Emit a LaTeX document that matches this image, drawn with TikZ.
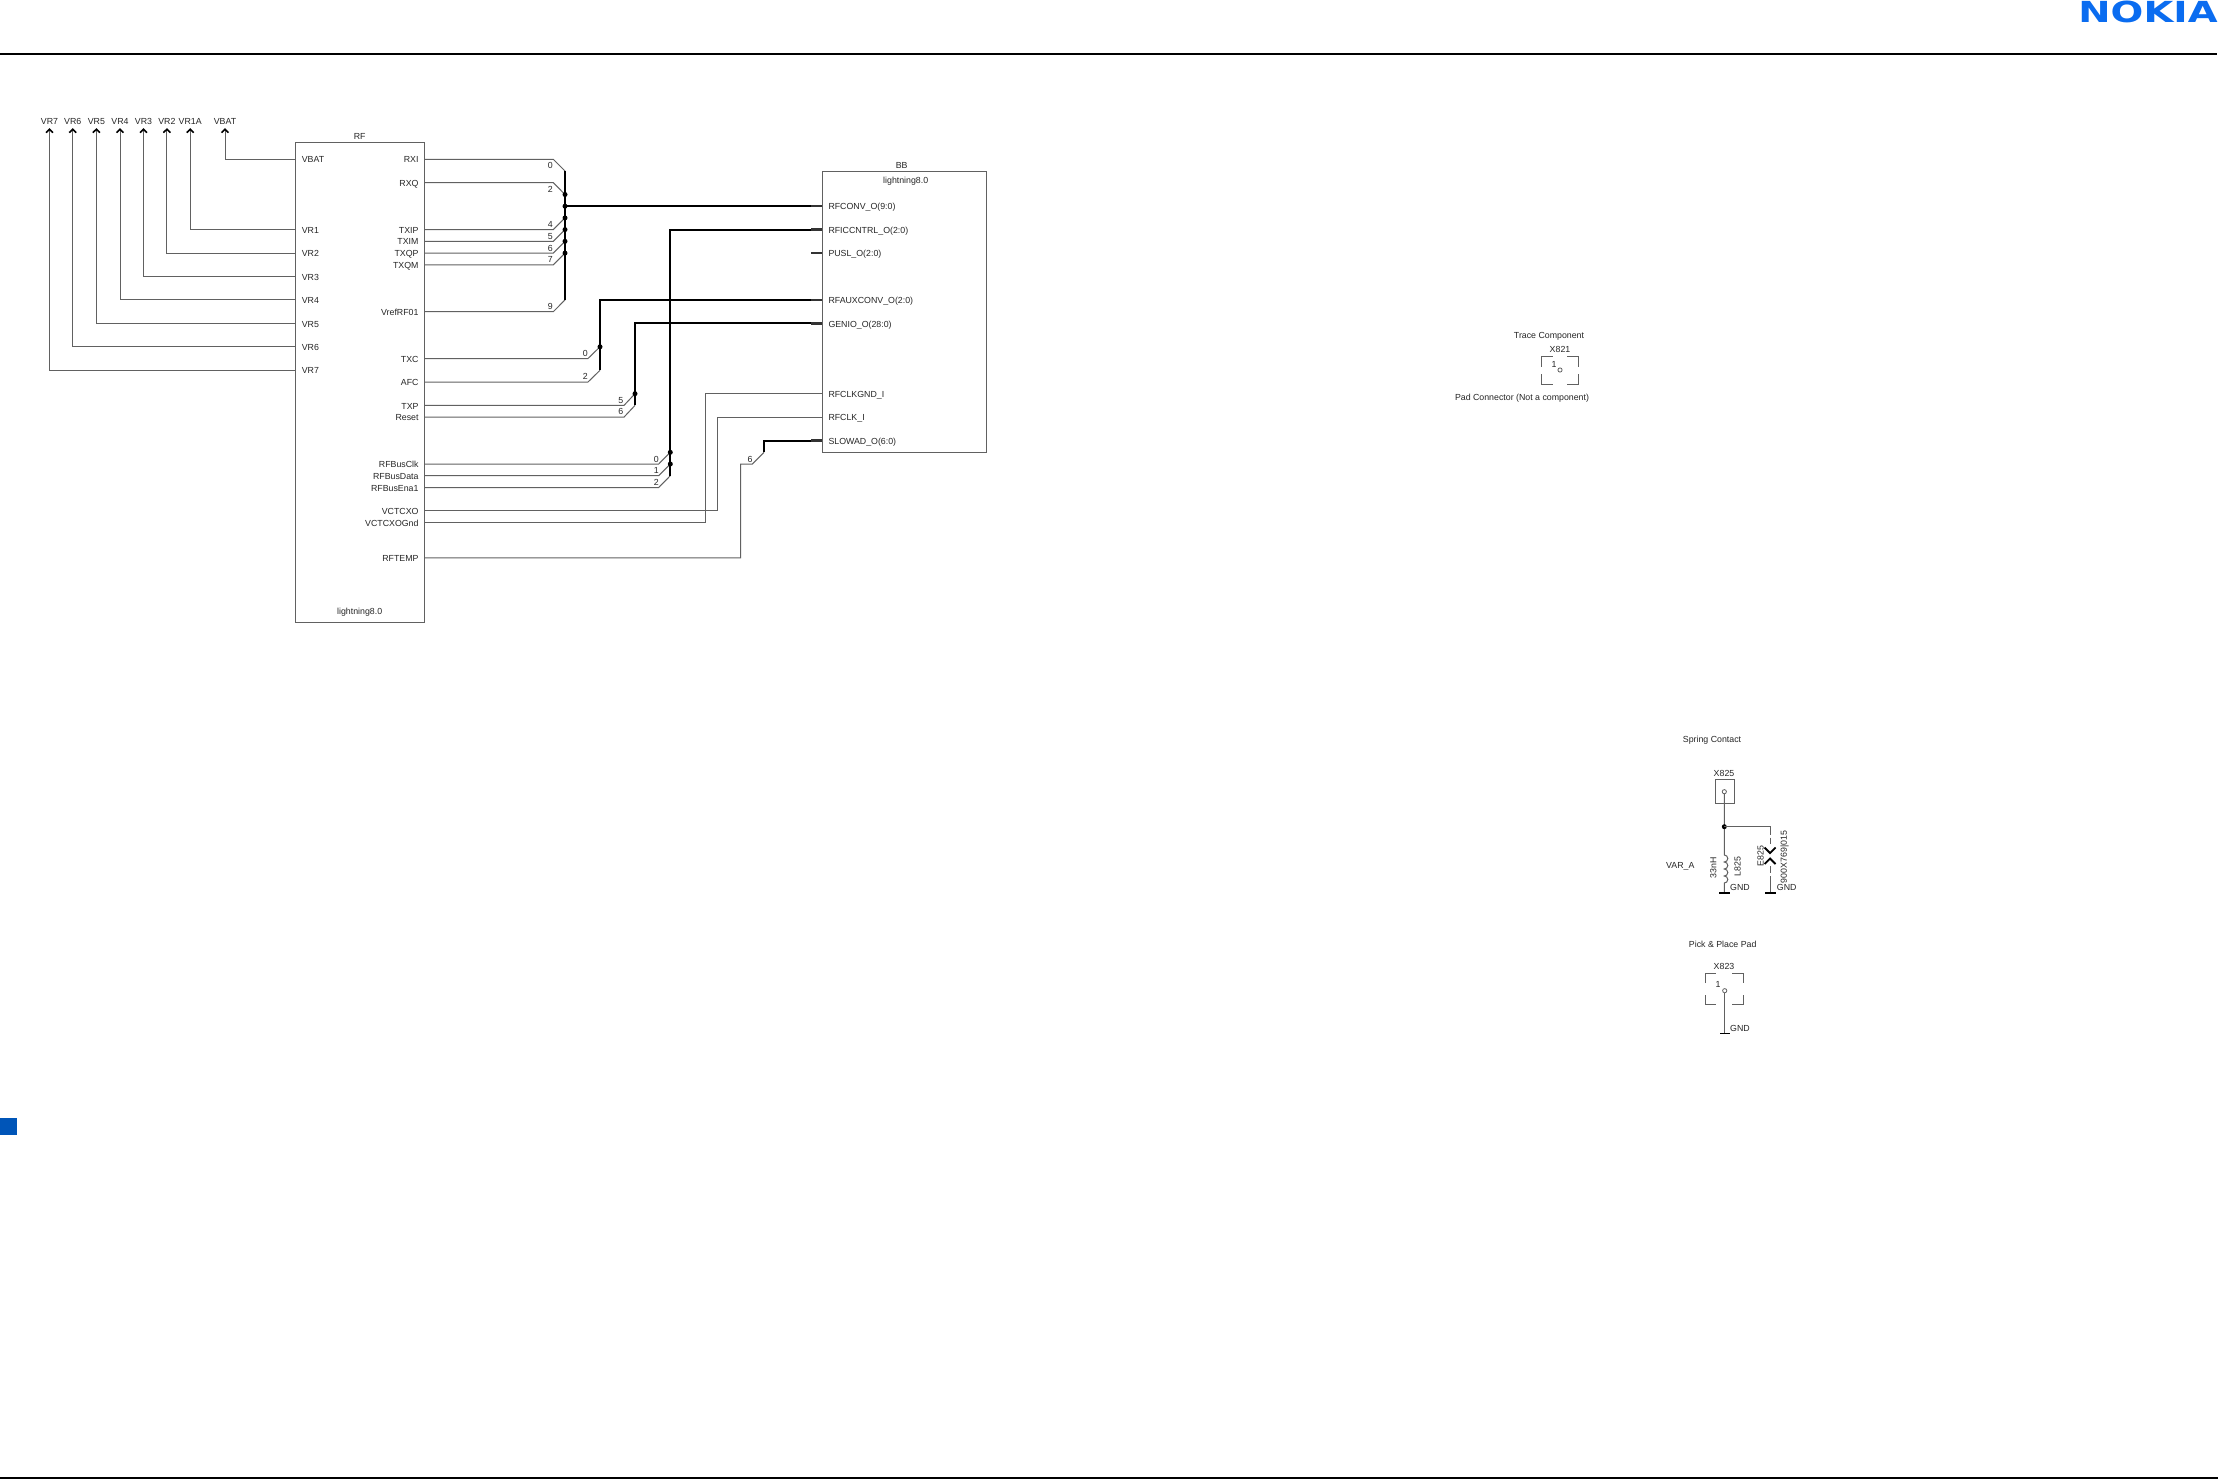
\documentclass[tikz,border=0pt]{standalone}
\usepackage{fontspec}
\setmainfont{Liberation Sans}
\newfontfamily\logofont{DejaVu Sans}
\usetikzlibrary{arrows.meta,calc}
\definecolor{wirec}{gray}{0.38}
\definecolor{inkc}{gray}{0.15}
\definecolor{logoblue}{HTML}{0A6CF0}
\definecolor{tabblue}{HTML}{0055B8}
\tikzset{
  lbl/.style={font=\fontsize{8.8}{10}\selectfont,text=inkc,inner sep=0pt,text height=7.3pt,text depth=0pt},
  pinL/.style={lbl,anchor=west},
  pinR/.style={lbl,anchor=east},
  num/.style={lbl,anchor=center},
  chip/.style={draw=wirec,line width=1pt,inner sep=0pt,anchor=north west},
  wire/.style={draw=wirec,line width=1pt},
  bus/.style={draw=black,line width=1.9pt},
  thinbus/.style={draw=black,line width=1.5pt},
  stub/.style={draw=black!80,line width=2.4pt},
  jdot/.style={fill=black,draw=none,circle,inner sep=0pt,minimum size=5pt},
  padc/.style={draw=wirec,line width=0.9pt},
  hole/.style={draw=wirec,line width=0.8pt,fill=white,circle,inner sep=0pt,minimum size=4.2pt},
  upw/.style={wire,-{Straight Barb[length=3.4pt,width=7pt,line width=1.6pt,color=black]}},
  gndbar/.style={draw=black,line width=1.5pt},
  chev/.style={draw=black,line width=1.8pt}
}
\begin{document}
\begin{tikzpicture}[x=1pt,y=-1pt]
\useasboundingbox (0,0) rectangle (2218,1479);
\fill[white] (0,0) rectangle (2218,1479);
% page furniture
\fill[black] (0,53) rectangle (2217,55);
\fill[black] (0,1477) rectangle (2218,1479);
\fill[tabblue] (0,1118) rectangle (17,1135);
\node[inner sep=0pt,anchor=base,text=logoblue] (logo) at (2148,22.4)
  {\scalebox{1.33}[1]{\logofont\bfseries\fontsize{29}{30}\selectfont NOKIA}};

% RF block
\node[chip,minimum width=129pt,minimum height=479.4pt] (rf) at (295,142.3) {};
\node[num] (rftitle) at (359.7,136) {RF};
\node[num] (rfmodel) at (359.7,611) {lightning8.0};
% RF left pins
\node[pinL] (vbat) at (301.6,159.3) {VBAT};
\node[pinL] (vra) at (301.6,229.6) {VR1};
\node[pinL] (vrb) at (301.6,253.1) {VR2};
\node[pinL] (vrc) at (301.6,276.5) {VR3};
\node[pinL] (vrd) at (301.6,299.9) {VR4};
\node[pinL] (vre) at (301.6,323.4) {VR5};
\node[pinL] (vrf) at (301.6,346.8) {VR6};
\node[pinL] (vrg) at (301.6,370.3) {VR7};
% supply labels
\node[num] (tvrg) at (49.5,121.3) {VR7};
\node[num] (tvrf) at (72.7,121.3) {VR6};
\node[num] (tvre) at (96.4,121.3) {VR5};
\node[num] (tvrd) at (120,121.3) {VR4};
\node[num] (tvrc) at (143.5,121.3) {VR3};
\node[num] (tvrb) at (166.9,121.3) {VR2};
\node[num] (tvra) at (190.2,121.3) {VR1A};
\node[num] (tvbat) at (225,121.3) {VBAT};
\foreach \p/\t in {vbat/tvbat,vra/tvra,vrb/tvrb,vrc/tvrc,vrd/tvrd,vre/tvre,vrf/tvrf,vrg/tvrg}
  \draw[upw] (\p -| rf.west) -| ([yshift=-3pt]\t.south);
% RF right pins
\node[pinR] (rxi) at (418.7,159.3) {RXI};
\node[pinR] (rxq) at (418.7,182.7) {RXQ};
\node[pinR] (txip) at (418.7,229.6) {TXIP};
\node[pinR] (txim) at (418.7,241.3) {TXIM};
\node[pinR] (txqp) at (418.7,253.1) {TXQP};
\node[pinR] (txqm) at (418.7,264.8) {TXQM};
\node[pinR] (vref) at (418.7,311.7) {VrefRF01};
\node[pinR] (txc) at (418.7,358.5) {TXC};
\node[pinR] (afc) at (418.7,382) {AFC};
\node[pinR] (txp) at (418.7,405.4) {TXP};
\node[pinR] (reset) at (418.7,417.1) {Reset};
\node[pinR] (bclk) at (418.7,464) {RFBusClk};
\node[pinR] (bdat) at (418.7,475.7) {RFBusData};
\node[pinR] (bena) at (418.7,487.5) {RFBusEna1};
\node[pinR] (vctcxo) at (418.7,510.9) {VCTCXO};
\node[pinR] (vctgnd) at (418.7,522.6) {VCTCXOGnd};
\node[pinR] (rftemp) at (418.7,557.8) {RFTEMP};

% BB block
\node[chip,minimum width=164.3pt,minimum height=281pt] (bb) at (822,171.3) {};
\node[num] (bbtitle) at (901.7,165) {BB};
\node[num] (bbmodel) at (905.7,180) {lightning8.0};
\node[pinL] (rfconv) at (828.3,206.2) {RFCONV\_O(9:0)};
\node[pinL] (rfic) at (828.3,229.6) {RFICCNTRL\_O(2:0)};
\node[pinL] (pusl) at (828.3,253.1) {PUSL\_O(2:0)};
\node[pinL] (rfaux) at (828.3,299.9) {RFAUXCONV\_O(2:0)};
\node[pinL] (genio) at (828.3,323.4) {GENIO\_O(28:0)};
\node[pinL] (clkgnd) at (828.3,393.7) {RFCLKGND\_I};
\node[pinL] (clki) at (828.3,417.1) {RFCLK\_I};
\node[pinL] (slowad) at (828.3,440.6) {SLOWAD\_O(6:0)};

% bus 1: RFCONV
\coordinate (a0) at (553.3,159.3);
\coordinate (a1) at (565,171);
\coordinate (a2) at (553.3,182.7);
\coordinate (a9) at (565,299.9);
\draw[wire] (rxi -| rf.east) -- (a0) -- (a1);
\draw[wire] (rxq -| rf.east) -- (a2) -- (565,194.5);
\draw[wire] (txip -| rf.east) -- (553.3,229.6) -- (565,217.9);
\draw[wire] (txim -| rf.east) -- (553.3,241.3) -- (565,229.6);
\draw[wire] (txqp -| rf.east) -- (553.3,253.1) -- (565,241.3);
\draw[wire] (txqm -| rf.east) -- (553.3,264.8) -- (565,253.1);
\draw[wire] (vref -| rf.east) -- (553.3,311.7) -- (a9);
\draw[bus] (a1) -- (a9);
\node[jdot] (ja) at (565,206.2) {};
\node[jdot] (j3) at (565,194.5) {};
\node[jdot] (j4) at (565,217.9) {};
\node[jdot] (j5) at (565,229.6) {};
\node[jdot] (j6) at (565,241.3) {};
\node[jdot] (j7) at (565,253.1) {};
\draw[thinbus] (ja.center) -- (rfconv -| bb.west);
\node[num] (n10) at (550.3,165.3) {0};
\node[num] (n12) at (550.3,189) {2};
\node[num] (n14) at (550.3,224) {4};
\node[num] (n15) at (550.3,236) {5};
\node[num] (n16) at (550.3,247.5) {6};
\node[num] (n17) at (550.3,259) {7};
\node[num] (n19) at (550.3,306) {9};

% bus 2: RFAUXCONV
\coordinate (b1) at (600,370.3);
\draw[wire] (txc -| rf.east) -- (588,358.5) -- (600,346.8);
\draw[wire] (afc -| rf.east) -- (588,382) -- (b1);
\draw[bus] (rfaux -| bb.west) -- (600,299.9) -- (b1);
\node[jdot] (j8) at (600,346.8) {};
\node[num] (n20) at (585.3,352.7) {0};
\node[num] (n22) at (585.3,376) {2};

% bus 3: GENIO
\coordinate (c1) at (635,405.4);
\draw[wire] (txp -| rf.east) -- (624,405.4) -- (635,393.7);
\draw[wire] (reset -| rf.east) -- (624,417.1) -- (c1);
\draw[bus] (genio -| bb.west) -- (635,323.4) -- (c1);
\node[jdot] (j9) at (635,393.7) {};
\node[num] (n35) at (620.7,399.7) {5};
\node[num] (n36) at (620.7,411.3) {6};

% bus 4: RFICCNTRL
\coordinate (d1) at (670.3,475.7);
\draw[wire] (bclk -| rf.east) -- (658.7,464) -- (670.3,452.3);
\draw[wire] (bdat -| rf.east) -- (658.7,475.7) -- (670.3,464);
\draw[wire] (bena -| rf.east) -- (658.7,487.5) -- (d1);
\draw[bus] (rfic -| bb.west) -- (670.3,229.6) -- (d1);
\node[jdot] (j10) at (670.3,452.3) {};
\node[jdot] (j11) at (670.3,464) {};
\node[num] (n40) at (656.3,458.7) {0};
\node[num] (n41) at (656.3,470.3) {1};
\node[num] (n42) at (656.3,482) {2};

% analogue nets
\draw[wire] (vctcxo -| rf.east) -- (717.3,510.9) -- (717.3,417.1) -- (clki -| bb.west);
\draw[wire] (vctgnd -| rf.east) -- (705.3,522.6) -- (705.3,393.7) -- (clkgnd -| bb.west);
\draw[wire] (rftemp -| rf.east) -- (740.7,557.8) -- (740.7,464) -- (752.3,464) -- (764,452.3);
\draw[bus] (764,452.3) -- (764,440.6) -- (slowad -| bb.west);
\node[num] (n56) at (750,458.7) {6};

% pin stubs on BB
\coordinate (s1) at ($(bb.west |- rfconv)+(-11,0)$);
\coordinate (s2) at ($(bb.west |- rfic)+(-11,0)$);
\coordinate (s3) at ($(bb.west |- pusl)+(-11,0)$);
\coordinate (s4) at ($(bb.west |- rfaux)+(-11,0)$);
\coordinate (s5) at ($(bb.west |- genio)+(-11,0)$);
\coordinate (s6) at ($(bb.west |- slowad)+(-11,0)$);
\draw[stub] (s1) -- (bb.west |- rfconv);
\draw[stub] (s2) -- (bb.west |- rfic);
\draw[stub] (s3) -- (bb.west |- pusl);
\draw[stub] (s4) -- (bb.west |- rfaux);
\draw[stub] (s5) -- (bb.west |- genio);
\draw[stub] (s6) -- (bb.west |- slowad);

% Trace component X821
\node[num] (tracet) at (1549,335.3) {Trace Component};
\node[num] (x821) at (1560,349) {X821};
\draw[padc] (1541.3,366.7) |- (1553,356.7);
\draw[padc] (1567,356.7) -| (1578.7,366.7);
\draw[padc] (1541.3,374) |- (1553,384);
\draw[padc] (1567,384) -| (1578.7,374);
\node[num] (x821n) at (1554,364.3) {1};
\node[hole] (x821h) at (1560,370) {};
\node[num] (padt) at (1522,397) {Pad Connector (Not a component)};

% Spring contact X825
\node[num] (springt) at (1712,739.3) {Spring Contact};
\node[num] (x825) at (1724,772.7) {X825};
\node[draw=wirec,line width=0.9pt,minimum width=19pt,minimum height=24pt,inner sep=0pt,anchor=north west] (x825b) at (1714.7,779.3) {};
\node[hole] (x825h) at (1724.3,791.7) {};
\coordinate (lt) at (1724.3,855);
\coordinate (gnd1) at (1724.3,893);
\draw[wire] (x825h) -- (lt)
  arc[start angle=90,end angle=-90,radius=3.5pt]
  arc[start angle=90,end angle=-90,radius=3.5pt]
  arc[start angle=90,end angle=-90,radius=3.5pt]
  arc[start angle=90,end angle=-90,radius=3.5pt] -- (gnd1);
\node[jdot] (jsp) at (1724.3,826.7) {};
\draw[gndbar] (1719,893) -- (1729.5,893);
\node[num] (gnd1t) at (1740,887.3) {GND};
\node[num] (varA) at (1680.3,865.3) {VAR\_A};
\node[lbl,rotate=90] (l33) at (1712.7,867.7) {33nH};
\node[lbl,rotate=90] (l825) at (1737,866.7) {L825};
\coordinate (ec) at (1770,826.7);
\coordinate (gnd2) at (1770,893);
\draw[wire] (jsp.center) -- (ec) -- (1770,835);
\draw[wire] (1770,837.5) -- (1770,844);
\draw[wire] (1770,866) -- (1770,873);
\draw[wire] (1770,876) -- (gnd2);
\draw[chev] (1764.5,847.5) -- (1770,853) -- (1775.5,847.5);
\draw[chev] (1764.5,864) -- (1770,858.5) -- (1775.5,864);
\draw[gndbar] (1765,893) -- (1776,893);
\node[num] (gnd2t) at (1786.7,887.3) {GND};
\node[lbl,rotate=90] (e825) at (1760,856) {E825};
\node[lbl,rotate=90] (e825p) at (1783.3,857) {900X769|015};

% Pick and place pad X823
\node[num] (pickt) at (1722.7,944.3) {Pick \& Place Pad};
\node[num] (x823) at (1724,966) {X823};
\draw[padc] (1705,983) |- (1716,973.3);
\draw[padc] (1732,973.3) -| (1743.3,983);
\draw[padc] (1705,995) |- (1716,1004.7);
\draw[padc] (1732,1004.7) -| (1743.3,995);
\node[num] (x823n) at (1718,984.3) {1};
\node[hole] (x823h) at (1724.7,990.7) {};
\coordinate (gnd3) at (1724.7,1033.7);
\draw[wire] (x823h) -- (gnd3);
\draw[gndbar] (1720,1033.7) -- (1729.5,1033.7);
\node[num] (gnd3t) at (1740,1027.7) {GND};
\end{tikzpicture}
\end{document}
